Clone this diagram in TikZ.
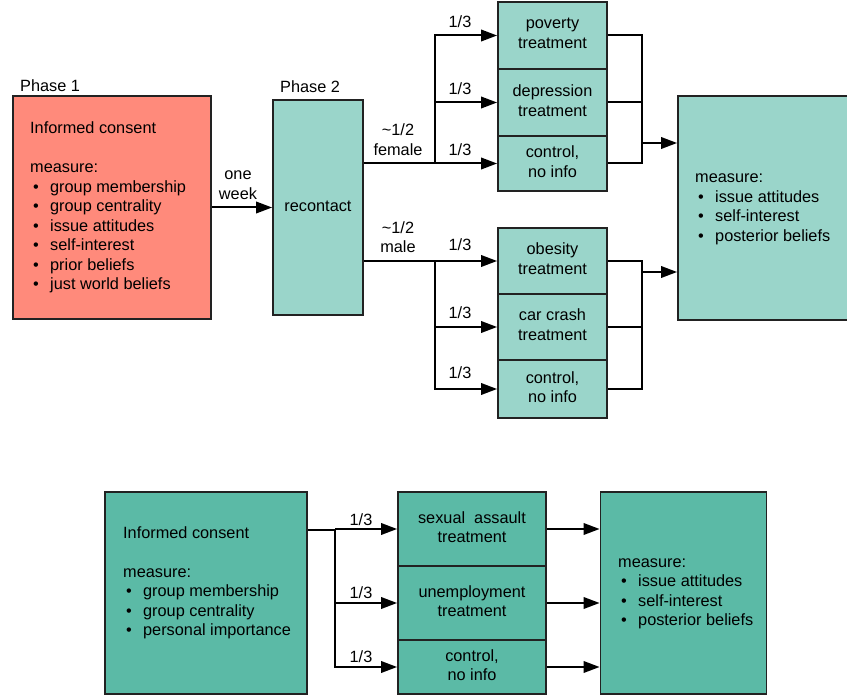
\documentclass[tikz,border=0pt]{standalone}
\usepackage{fontspec}
\setmainfont{Liberation Sans}
\usetikzlibrary{arrows.meta}
\definecolor{salmon}{HTML}{FF8A7B}
\definecolor{lteal}{HTML}{9AD5CA}
\definecolor{dteal}{HTML}{5BBAA6}
\definecolor{edgegray}{HTML}{222222}
\newcommand{\fs}{\fontsize{16.3}{19.5}\selectfont}
\newcommand{\bitem}{\makebox[20pt][l]{\hspace{3pt}\textbullet}}
\begin{document}
\begin{tikzpicture}[x=1pt,y=-1pt,
 box/.style={draw=edgegray, line width=1.8pt, inner sep=0pt, font=\fs, align=center},
 conn/.style={line width=2pt, black},
 arr/.style={conn, -{Triangle[length=16pt,width=11.5pt]}},
 lbl/.style={font=\fs, inner sep=0pt},
 txt/.style={font=\fs, inner sep=0pt, anchor=base west},
 tt/.style={font=\fs, inner sep=0pt, align=center}]
\useasboundingbox (0,0) rectangle (847,698);

% ---------- top diagram ----------
\node[box, fill=salmon, minimum width=198pt, minimum height=223pt] (p1) at (112,207.5) {};
\node[lbl, anchor=west] (p1lab) at (20,86) {Phase 1};
\node[txt] (p1txt) at (30,134) {\begin{tabular}[t]{@{}l@{}}Informed consent\\ \\ measure:\\
\bitem group membership\\ \bitem group centrality\\ \bitem issue attitudes\\
\bitem self-interest\\ \bitem prior beliefs\\ \bitem just world beliefs\end{tabular}};

\node[box, fill=lteal, minimum width=90pt, minimum height=215pt] (p2) at (318,207.5) {};
\node[tt] (p2txt) at (318,206.5) {recontact};
\node[lbl, anchor=west] (p2lab) at (280,87) {Phase 2};

\draw[arr] (p1.east) -- (p2.west);
\node[lbl] (wk1) at (238,175) {one};
\node[lbl] (wk2) at (238,194) {week};

\node[box, fill=lteal, minimum width=109pt, minimum height=67pt] (pov) at (552.5,35.5) {};
\node[box, fill=lteal, minimum width=109pt, minimum height=67pt] (dep) at (552.5,102.5) {};
\node[box, fill=lteal, minimum width=109pt, minimum height=55pt] (ct1) at (552.5,163.5) {};
\node[box, fill=lteal, minimum width=109pt, minimum height=66pt] (obe) at (552.5,261) {};
\node[box, fill=lteal, minimum width=109pt, minimum height=66pt] (car) at (552.5,327) {};
\node[box, fill=lteal, minimum width=109pt, minimum height=58pt] (ct2) at (552.5,389) {};
\node[tt] (povt) at (552.5,33.5) {poverty\\treatment};
\node[tt] (dept) at (552.5,100.5) {depression\\treatment};
\node[tt] (ct1t) at (552.5,161.5) {control,\\no info};
\node[tt] (obet) at (552.5,258.5) {obesity\\treatment};
\node[tt] (cart) at (552.5,324.5) {car crash\\treatment};
\node[tt] (ct2t) at (552.5,387) {control,\\no info};

\node[box, fill=lteal, minimum width=174pt, minimum height=224pt] (m1) at (765,208) {};
\node[txt] (m1txt) at (695,183) {\begin{tabular}[t]{@{}l@{}}measure:\\
\bitem issue attitudes\\ \bitem self-interest\\ \bitem posterior beliefs\end{tabular}};

% female branch
\coordinate (fj) at (435,163.5);
\draw[arr] (p2.east |- ct1.west) -- (ct1.west);
\draw[arr] (fj) |- (pov.west);
\draw[arr] (fj |- dep.west) -- (dep.west);
% male branch
\coordinate (mj) at (435,261);
\draw[arr] (p2.east |- obe.west) -- (obe.west);
\draw[arr] (mj) |- (ct2.west);
\draw[arr] (mj |- car.west) -- (car.west);

\node[lbl] (fa) at (398,130) {\textasciitilde 1/2};
\node[lbl] (fb) at (398,150) {female};
\node[lbl] (ma) at (398,228) {\textasciitilde 1/2};
\node[lbl] (mb) at (398,247) {male};
\node[lbl] (t1) at (460,22) {1/3};
\node[lbl] (t2) at (460,89) {1/3};
\node[lbl] (t3) at (460,150) {1/3};
\node[lbl] (t4) at (460,245) {1/3};
\node[lbl] (t5) at (460,313) {1/3};
\node[lbl] (t6) at (460,373) {1/3};

% merge lines
\coordinate (rt1) at (642,35.5);
\coordinate (rb1) at (642,163.5);
\draw[conn] (pov.east) -- (rt1) -- (rb1) -- (ct1.east);
\draw[conn] (dep.east) -- (dep.east -| rt1);
\coordinate (mo1) at (642,143);
\draw[arr] (mo1) -- (mo1 -| m1.west);
\coordinate (rt2) at (642,261);
\coordinate (rb2) at (642,389);
\draw[conn] (obe.east) -- (rt2) -- (rb2) -- (ct2.east);
\draw[conn] (car.east) -- (car.east -| rt2);
\coordinate (mo2) at (642,272);
\draw[arr] (mo2) -- (mo2 -| m1.west);

% ---------- bottom diagram ----------
\node[box, fill=dteal, minimum width=202pt, minimum height=202pt] (ic) at (206,593) {};
\node[txt] (ictxt) at (123,538) {\begin{tabular}[t]{@{}l@{}}Informed consent\\ \\ measure:\\
\bitem group membership\\ \bitem group centrality\\ \bitem personal importance\end{tabular}};

\node[box, fill=dteal, minimum width=148pt, minimum height=74pt] (sa) at (472,529) {};
\node[box, fill=dteal, minimum width=148pt, minimum height=74pt] (un) at (472,603) {};
\node[box, fill=dteal, minimum width=148pt, minimum height=54pt] (ct3) at (472,667) {};
\node[tt] (sat) at (472,527) {sexual\ \ assault\\treatment};
\node[tt] (unt) at (472,601) {unemployment\\treatment};
\node[tt] (ct3t) at (472,665) {control,\\no info};

\node[box, fill=dteal, minimum width=166pt, minimum height=202pt] (m2) at (683.5,593) {};
\node[txt] (m2txt) at (618,567) {\begin{tabular}[t]{@{}l@{}}measure:\\
\bitem issue attitudes\\ \bitem self-interest\\ \bitem posterior beliefs\end{tabular}};

\coordinate (bj) at (335,530);
\draw[conn] (ic.east |- bj) -- (bj);
\draw[arr] (bj) |- (ct3.west);
\draw[arr] (bj |- sa.west) -- (sa.west);
\draw[arr] (bj |- un.west) -- (un.west);
\draw[arr] (sa.east) -- (sa.east -| m2.west);
\draw[arr] (un.east) -- (un.east -| m2.west);
\draw[arr] (ct3.east) -- (ct3.east -| m2.west);

\node[lbl] (b1) at (361,520) {1/3};
\node[lbl] (b2) at (361,593) {1/3};
\node[lbl] (b3) at (361,657) {1/3};
\end{tikzpicture}
\end{document}
